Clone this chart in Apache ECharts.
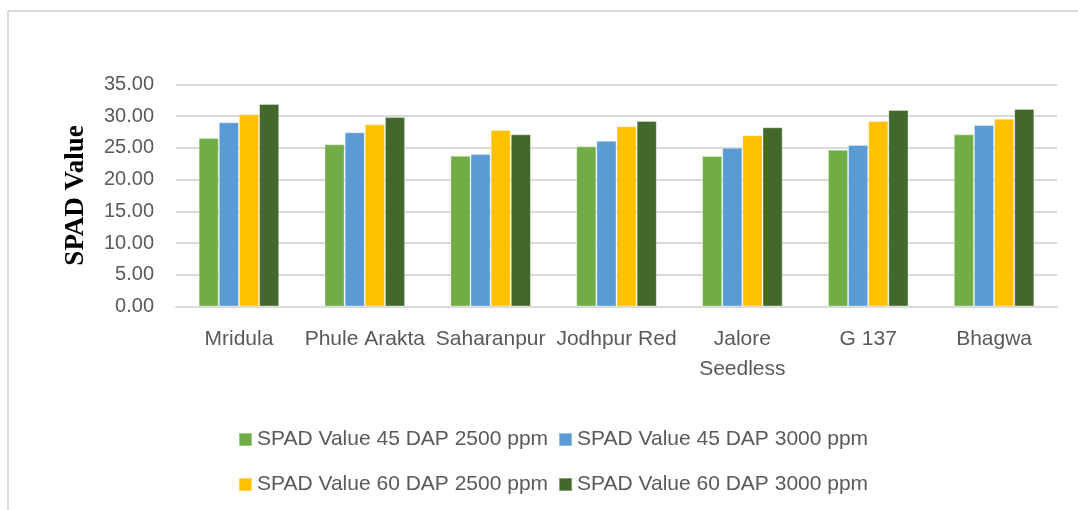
<!DOCTYPE html>
<html>
<head>
<meta charset="utf-8">
<script src="https://cdn.jsdelivr.net/npm/echarts@6/dist/echarts.min.js"></script>
<style>
html,body{margin:0;padding:0;background:#fff;}
#chart{width:1078px;height:510px;}
</style>
</head>
<body>
<div id="chart"></div>
<script>
const categories = ['Mridula', 'Phule Arakta', 'Saharanpur', 'Jodhpur Red', 'Jalore Seedless', 'G 137', 'Bhagwa'];
const seriesNames = ['SPAD Value 45 DAP 2500 ppm', 'SPAD Value 45 DAP 3000 ppm', 'SPAD Value 60 DAP 2500 ppm', 'SPAD Value 60 DAP 3000 ppm'];
const dap45_2500 = [26.56, 25.57, 23.78, 25.25, 23.73, 24.72, 27.14];
const dap45_3000 = [29.04, 27.46, 24.04, 26.14, 25.04, 25.46, 28.61];
const dap60_2500 = [30.30, 28.72, 27.83, 28.41, 26.99, 29.25, 29.60];
const dap60_3000 = [31.92, 29.87, 27.14, 29.25, 28.25, 30.98, 31.14];
const yTicks = { min: 0, max: 35, interval: 5 };

const colors = ['#70AD47', '#5B9BD5', '#FFC000', '#43682B'];
const values = [dap45_2500, dap45_3000, dap60_2500, dap60_3000];

const chart = echarts.init(document.getElementById('chart'), null, { renderer: 'canvas' });
const font = '"Liberation Sans", Arial, sans-serif';
const legendText = { fontFamily: font, fontSize: 21, color: '#595959' };

chart.setOption({
  animation: false,
  backgroundColor: '#fff',
  graphic: [
    { type: 'line', shape: { x1: 8, y1: 11, x2: 1078, y2: 11 }, style: { stroke: '#d9d9d9', lineWidth: 2 } },
    { type: 'line', shape: { x1: 8, y1: 11, x2: 8, y2: 510 }, style: { stroke: '#d9d9d9', lineWidth: 2 } }
  ],
  grid: { left: 176, right: 21, top: 84.5, bottom: 203.5, containLabel: false },
  legend: [
    { data: seriesNames.slice(0, 2), top: 424, left: 233, itemWidth: 13, itemHeight: 13, itemGap: 10, textStyle: legendText, icon: 'rect' },
    { data: seriesNames.slice(2, 4), top: 469, left: 233, itemWidth: 13, itemHeight: 13, itemGap: 10, textStyle: legendText, icon: 'rect' }
  ],
  xAxis: {
    type: 'category',
    data: categories,
    axisLine: { show: true, lineStyle: { color: '#d9d9d9', width: 2 } },
    axisTick: { show: false },
    axisLabel: {
      fontFamily: font, fontSize: 21, color: '#595959', margin: 18, interval: 0, lineHeight: 30,
      formatter: v => v === 'Jalore Seedless' ? 'Jalore\nSeedless' : v
    }
  },
  yAxis: {
    type: 'value',
    min: yTicks.min, max: yTicks.max, interval: yTicks.interval,
    name: 'SPAD Value',
    nameLocation: 'middle',
    nameGap: 86,
    nameTextStyle: { fontFamily: '"Liberation Serif", "Times New Roman", serif', fontWeight: 'bold', fontSize: 27, color: '#000' },
    axisLine: { show: false },
    axisTick: { show: false },
    splitLine: { lineStyle: { color: '#d9d9d9', width: 2 } },
    axisLabel: { fontFamily: font, fontSize: 20, color: '#595959', margin: 22, formatter: v => v.toFixed(2) }
  },
  series: seriesNames.map((name, i) => ({
    name,
    type: 'bar',
    data: values[i],
    barGap: '0%',
    barCategoryGap: '36%',
    itemStyle: { color: colors[i], borderColor: 'rgba(255,255,255,0.35)', borderWidth: 1 }
  }))
});
</script>
</body>
</html>
